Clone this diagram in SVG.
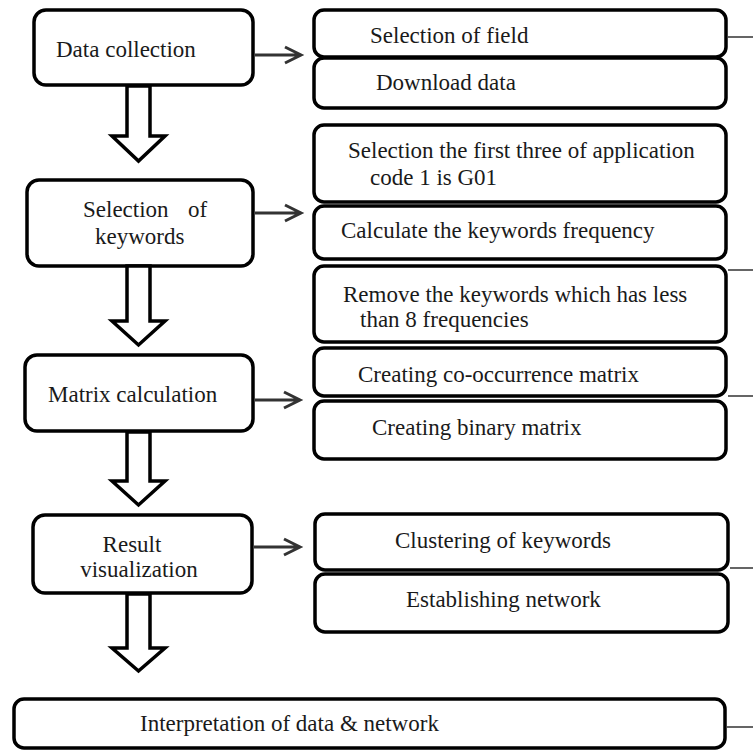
<svg xmlns="http://www.w3.org/2000/svg" width="753" height="755" viewBox="0 0 753 755">
<style>
.box{fill:#fff;stroke:#000;stroke-width:3.5}
.t{font-family:"Liberation Serif","Times New Roman",serif;font-size:23px;fill:#1a1a1a}
.m{text-anchor:middle}
.blk{fill:#fff;stroke:#000;stroke-width:3.5;stroke-linejoin:miter}
.ln{fill:none;stroke:#333;stroke-width:3}
.thin{fill:none;stroke:#333;stroke-width:1.5}
</style>
<rect width="753" height="755" fill="#fff"/>
<g id="n-data-collection"><rect class="box" x="34" y="10" width="219" height="75" rx="12"/><text class="t" x="56" y="57">Data collection</text></g>
<g id="n-selection-keywords"><rect class="box" x="27" y="180" width="226" height="86" rx="12"/><text class="t" y="217"><tspan x="83">Selection</tspan><tspan x="188">of</tspan></text><text class="t" x="95" y="244">keywords</text></g>
<g id="n-matrix-calculation"><rect class="box" x="25" y="355" width="228" height="76" rx="12"/><text class="t" x="48" y="402">Matrix calculation</text></g>
<g id="n-result-visualization"><rect class="box" x="33" y="515" width="219" height="78" rx="12"/><text class="t m" x="132" y="552">Result</text><text class="t m" x="139" y="577">visualization</text></g>
<g id="n-interpretation"><rect class="box" x="14" y="699" width="711" height="49" rx="10"/><text class="t" x="140" y="731">Interpretation of data &amp; network</text></g>
<g id="n-selection-field"><rect class="box" x="314" y="10" width="412" height="47" rx="10"/><text class="t" x="370" y="43">Selection of field</text></g>
<g id="n-download"><rect class="box" x="314" y="58" width="412" height="50" rx="10"/><text class="t" x="376" y="90">Download data</text></g>
<g id="n-first-three"><rect class="box" x="314" y="125" width="412" height="77" rx="10"/><text class="t" x="348" y="158">Selection the first three of application</text><text class="t" x="370" y="185">code 1 is G01</text></g>
<g id="n-calc-frequency"><rect class="box" x="314" y="206" width="412" height="53" rx="10"/><text class="t" x="341" y="238">Calculate the keywords frequency</text></g>
<g id="n-remove"><rect class="box" x="314" y="266" width="412" height="76" rx="10"/><text class="t" x="343" y="302">Remove the keywords which has less</text><text class="t" x="360" y="327">than 8 frequencies</text></g>
<g id="n-cooccurrence"><rect class="box" x="314" y="348" width="412" height="48" rx="10"/><text class="t" x="358" y="382">Creating co-occurrence matrix</text></g>
<g id="n-binary"><rect class="box" x="314" y="401" width="412" height="58" rx="10"/><text class="t" x="372" y="435">Creating binary matrix</text></g>
<g id="n-clustering"><rect class="box" x="315" y="514" width="413" height="56" rx="10"/><text class="t" x="395" y="548">Clustering of keywords</text></g>
<g id="n-network"><rect class="box" x="315" y="574" width="413" height="58" rx="10"/><text class="t" x="406" y="607">Establishing network</text></g>
<g id="connectors">
<polygon class="blk" points="127,86 150,86 150,136 165,136 138.5,161 112,136 127,136"/>
<polygon class="blk" points="127,266 150,266 150,321 165,321 138.5,345 112,321 127,321"/>
<polygon class="blk" points="127,432 150,432 150,481 165,481 138.5,505 112,481 127,481"/>
<polygon class="blk" points="127,594 150,594 150,648 165,648 138.5,671 112,648 127,648"/>
<path class="ln" d="M255,55H301M285,47L301,55L285,63"/>
<path class="ln" d="M255,213H301M285,205L301,213L285,221"/>
<path class="ln" d="M255,400H300M284,392L300,400L284,408"/>
<path class="ln" d="M254,547H300M284,539L300,547L284,555"/>
<path class="thin" d="M728,37H753M728,270H753M728,396H753M730,568H753M727,727H753"/>
</g>
</svg>
